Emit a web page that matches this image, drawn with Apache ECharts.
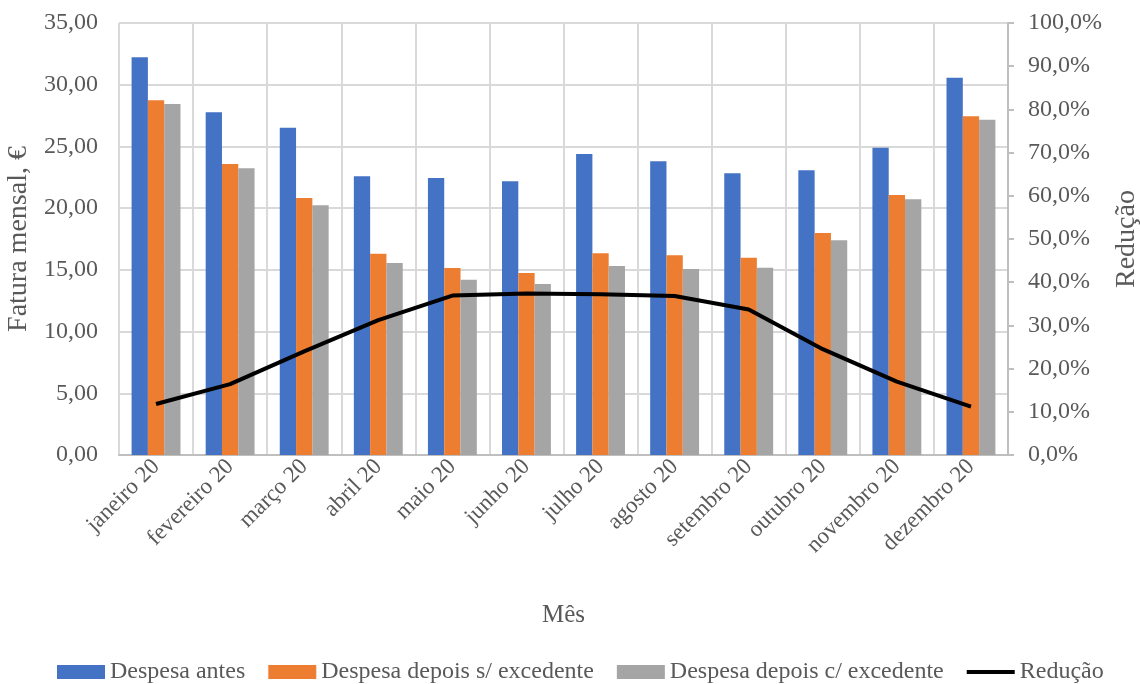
<!DOCTYPE html>
<html>
<head>
<meta charset="utf-8">
<script src="https://cdn.jsdelivr.net/npm/echarts@6/dist/echarts.min.js"></script>
<style>
  html, body { margin: 0; padding: 0; background: #ffffff; }
  #chart { width: 1140px; height: 684px; }
</style>
</head>
<body>
<div id="chart"></div>
<script>
// Monthly bill (€) before and after, and the resulting reduction (%)
const meses = ['janeiro 20', 'fevereiro 20', 'março 20', 'abril 20', 'maio 20', 'junho 20',
  'julho 20', 'agosto 20', 'setembro 20', 'outubro 20', 'novembro 20', 'dezembro 20'];
const despesaAntes = [32.22, 27.76, 26.52, 22.58, 22.44, 22.17, 24.39, 23.80, 22.82, 23.07, 24.90, 30.57];
const despesaSemExcedente = [28.74, 23.58, 20.82, 16.31, 15.15, 14.75, 16.34, 16.18, 15.99, 17.99, 21.06, 27.44];
const despesaComExcedente = [28.44, 23.23, 20.23, 15.56, 14.20, 13.85, 15.31, 15.07, 15.18, 17.39, 20.72, 27.16];
const reducao = [11.8, 16.4, 24.0, 31.2, 36.9, 37.4, 37.2, 36.8, 33.7, 24.5, 17.0, 11.2];

const FONT = '"Liberation Serif", "Times New Roman", serif';
const TXT = '#595959';
const GRID = '#D9D9D9';

const chart = echarts.init(document.getElementById('chart'), null, { renderer: 'canvas' });

const fmtEuro = v => v.toFixed(2).replace('.', ',');
const fmtPct = v => v.toFixed(1).replace('.', ',') + '%';

chart.setOption({
  animation: false,
  textStyle: { fontFamily: FONT, color: TXT },
  grid: { left: 119, right: 132, top: 23, bottom: 229, containLabel: false, outerBoundsMode: 'none' },
  legend: {
    top: 655,
    left: 52,
    itemWidth: 48,
    itemHeight: 14,
    itemGap: 23,
    symbolKeepAspect: true,
    textStyle: { fontFamily: FONT, fontSize: 24, color: TXT },
    data: [
      { name: 'Despesa antes', icon: 'rect' },
      { name: 'Despesa depois s/ excedente', icon: 'rect' },
      { name: 'Despesa depois c/ excedente', icon: 'rect' },
      { name: 'Redução', icon: 'path://M0,0L48,0L48,4L0,4Z', itemStyle: { color: '#000000' } }
    ]
  },
  xAxis: {
    type: 'category',
    data: meses,
    boundaryGap: true,
    name: 'Mês',
    nameLocation: 'middle',
    nameGap: 148,
    nameTextStyle: { fontFamily: FONT, fontSize: 25, color: TXT },
    axisLine: { show: true, lineStyle: { color: '#BFBFBF', width: 2 } },
    axisTick: { show: false },
    axisLabel: { rotate: 45, fontFamily: FONT, fontSize: 23, color: TXT, margin: 8, interval: 0 },
    splitLine: { show: true, interval: 0, lineStyle: { color: GRID, width: 2 } }
  },
  yAxis: [
    {
      type: 'value',
      min: 0, max: 35, interval: 5,
      name: 'Fatura mensal, €',
      nameLocation: 'middle',
      nameGap: 82,
      nameTextStyle: { fontFamily: FONT, fontSize: 28, color: TXT },
      axisLine: { show: false },
      axisTick: { show: false },
      axisLabel: { fontFamily: FONT, fontSize: 24, color: TXT, margin: 21, formatter: fmtEuro },
      splitLine: { show: true, lineStyle: { color: GRID, width: 2 } }
    },
    {
      type: 'value',
      min: 0, max: 100, interval: 10,
      name: 'Redução',
      nameLocation: 'middle',
      nameGap: 103,
      nameTextStyle: { fontFamily: FONT, fontSize: 28, color: TXT },
      axisLine: { show: true, lineStyle: { color: '#BFBFBF', width: 2 } },
      axisTick: { show: true, inside: false, length: 6, lineStyle: { color: '#BFBFBF', width: 2 } },
      axisLabel: { fontFamily: FONT, fontSize: 24, color: TXT, margin: 20, formatter: fmtPct },
      splitLine: { show: false }
    }
  ],
  series: [
    {
      name: 'Despesa antes', type: 'bar', yAxisIndex: 0,
      data: despesaAntes, barGap: '0%', barCategoryGap: '34%',
      itemStyle: { color: '#4472C4' }
    },
    {
      name: 'Despesa depois s/ excedente', type: 'bar', yAxisIndex: 0,
      data: despesaSemExcedente, barGap: '0%', barCategoryGap: '34%',
      itemStyle: { color: '#ED7D31' }
    },
    {
      name: 'Despesa depois c/ excedente', type: 'bar', yAxisIndex: 0,
      data: despesaComExcedente, barGap: '0%', barCategoryGap: '34%',
      itemStyle: { color: '#A5A5A5' }
    },
    {
      name: 'Redução', type: 'line', yAxisIndex: 1,
      data: reducao, symbol: 'none', smooth: false,
      lineStyle: { color: '#000000', width: 4 },
      itemStyle: { color: '#000000' },
      z: 5
    }
  ]
});
</script>
</body>
</html>
